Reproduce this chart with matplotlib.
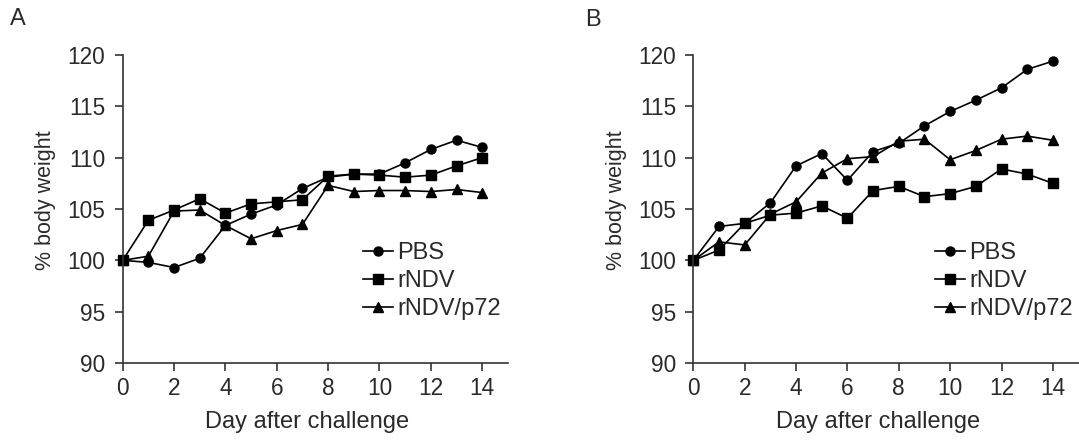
import matplotlib
matplotlib.use("Agg")
import matplotlib.pyplot as plt

plt.rcParams['font.family'] = ['Liberation Sans', 'DejaVu Sans']

days = list(range(15))

# panel A
pbs_a = [100, 99.8, 99.3, 100.2, 103.4, 104.5, 105.4, 107.0, 108.1, 108.4, 108.4, 109.5, 110.8, 111.7, 111.0]
rndv_a = [100, 103.9, 104.9, 106.0, 104.6, 105.5, 105.7, 105.9, 108.2, 108.4, 108.3, 108.1, 108.3, 109.2, 110.0]
p72_a = [100, 100.4, 104.8, 104.9, 103.4, 102.1, 102.9, 103.5, 107.3, 106.7, 106.8, 106.8, 106.7, 106.9, 106.6]

# panel B
pbs_b = [100, 103.3, 103.6, 105.6, 109.2, 110.4, 107.8, 110.6, 111.4, 113.1, 114.5, 115.6, 116.8, 118.6, 119.4]
rndv_b = [100, 101.0, 103.6, 104.4, 104.6, 105.3, 104.1, 106.8, 107.2, 106.2, 106.5, 107.2, 108.9, 108.4, 107.5]
p72_b = [100, 101.8, 101.5, 104.5, 105.7, 108.5, 109.9, 110.1, 111.6, 111.8, 109.8, 110.7, 111.8, 112.1, 111.7]

labels = ["PBS", "rNDV", "rNDV/p72"]
markers = ["o", "s", "^"]
txt = "#2a2a2a"


def panel(ax, series, legx):
    for vals, lab, mk in zip(series, labels, markers):
        ax.plot(days, vals, color="black", lw=1.2, marker=mk, ms=6.5, label=lab, clip_on=False)
    ax.set_xlim(0, 15)
    ax.set_ylim(90, 120)
    ax.set_xticks(range(0, 15, 2))
    ax.set_yticks(range(90, 121, 5))
    for s in ["top", "right"]:
        ax.spines[s].set_visible(False)
    for s in ["left", "bottom"]:
        ax.spines[s].set_color("#333333")
        ax.spines[s].set_linewidth(1.2)
    ax.tick_params(direction="out", length=6, width=1.2, color="#333333",
                   labelsize=16.3, labelcolor=txt)
    ax.tick_params(axis="y", pad=6.5)
    ax.tick_params(axis="x", pad=4)
    ax.set_xlabel("Day after challenge", fontsize=17, color=txt)
    ax.set_ylabel("% body weight", fontsize=15.5, color=txt)
    ax.xaxis.set_label_coords(0.479, -0.155)
    ax.yaxis.set_label_coords(-0.172, 0.53)
    ax.legend(loc="center left", bbox_to_anchor=(legx, 0.265), frameon=False,
              fontsize=17, labelcolor=txt, handlelength=1.27, handletextpad=0.17,
              labelspacing=0.25, borderpad=0, borderaxespad=0, numpoints=1)


fig = plt.figure(figsize=(10.79, 4.4), dpi=100)
axA = fig.add_axes([0.1137, 0.175, 0.357, 0.70])
axB = fig.add_axes([0.6426, 0.175, 0.357, 0.70])
panel(axA, [pbs_a, rndv_a, p72_a], 0.624)
panel(axB, [pbs_b, rndv_b, p72_b], 0.628)
fig.text(18 / 1079, 1 - 19 / 440, "A", fontsize=17, color=txt, ha="center", va="center")
fig.text(593 / 1079, 1 - 20 / 440, "B", fontsize=17, color=txt, ha="center", va="center")

fig.savefig("out.png", dpi=100)
